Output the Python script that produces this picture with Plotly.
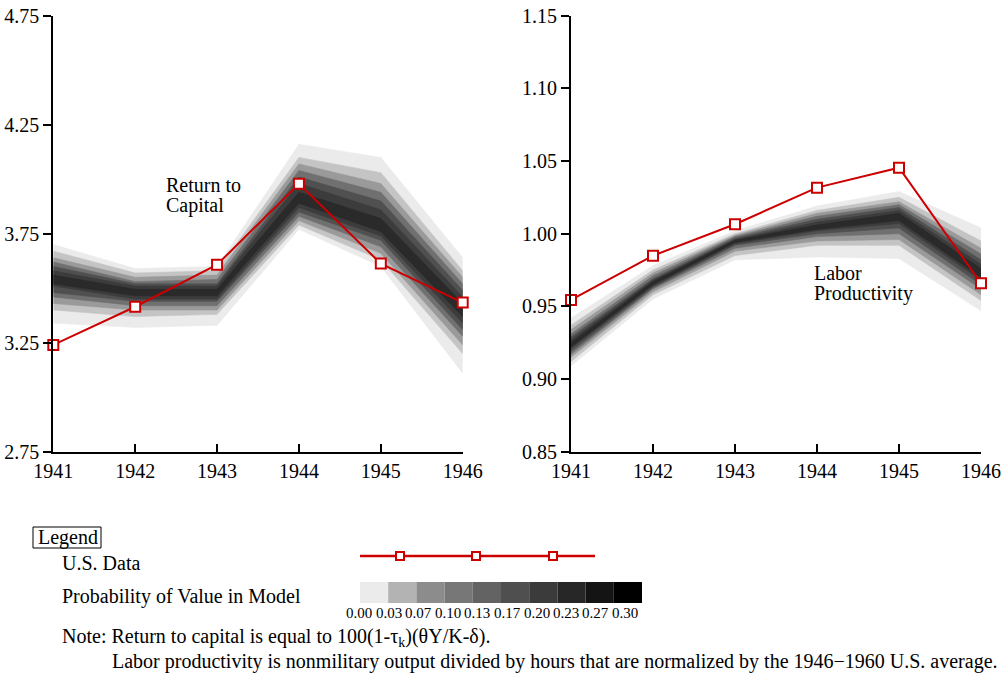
import plotly.graph_objects as go

W, H = 1005, 675
FONT = "Liberation Serif"

years = [1941, 1942, 1943, 1944, 1945, 1946]

# U.S. data
us_return = [3.24, 3.415, 3.608, 3.979, 3.613, 3.434]
us_labor = [0.9544, 0.9849, 1.0065, 1.0317, 1.0454, 0.9659]

# Model probability bands, outermost (lightest) to innermost (darkest)
band_shades = ["#ebebeb", "#c4c4c4", "#9a9a9a", "#707070", "#505050", "#3c3c3c", "#2a2a2a"]

ret_hi = [
    [3.70, 3.59, 3.60, 4.16, 4.10, 3.64],
    [3.67, 3.57, 3.58, 4.10, 4.03, 3.58],
    [3.64, 3.55, 3.56, 4.07, 3.98, 3.55],
    [3.62, 3.53, 3.54, 4.04, 3.94, 3.52],
    [3.60, 3.52, 3.52, 4.01, 3.90, 3.49],
    [3.58, 3.51, 3.51, 3.98, 3.86, 3.46],
    [3.56, 3.495, 3.495, 3.94, 3.82, 3.43],
]
ret_lo = [
    [3.34, 3.32, 3.33, 3.77, 3.60, 3.11],
    [3.40, 3.37, 3.38, 3.79, 3.63, 3.20],
    [3.43, 3.40, 3.40, 3.81, 3.66, 3.24],
    [3.46, 3.42, 3.42, 3.83, 3.69, 3.28],
    [3.48, 3.44, 3.44, 3.85, 3.72, 3.31],
    [3.51, 3.45, 3.45, 3.87, 3.74, 3.34],
    [3.52, 3.465, 3.465, 3.89, 3.76, 3.37],
]

lab_hi = [
    [0.942, 0.978, 1.002, 1.019, 1.029, 1.004],
    [0.937, 0.975, 1.000, 1.016, 1.025, 0.995],
    [0.934, 0.973, 0.999, 1.014, 1.022, 0.990],
    [0.931, 0.971, 0.998, 1.012, 1.020, 0.986],
    [0.929, 0.969, 0.997, 1.010, 1.018, 0.982],
    [0.927, 0.968, 0.996, 1.008, 1.016, 0.979],
    [0.925, 0.967, 0.9955, 1.006, 1.014, 0.976],
]
lab_lo = [
    [0.909, 0.955, 0.982, 0.984, 0.983, 0.947],
    [0.912, 0.958, 0.985, 0.992, 0.992, 0.954],
    [0.915, 0.960, 0.988, 0.995, 0.996, 0.958],
    [0.917, 0.962, 0.990, 0.998, 1.000, 0.962],
    [0.919, 0.963, 0.992, 1.000, 1.004, 0.965],
    [0.921, 0.964, 0.993, 1.002, 1.007, 0.968],
    [0.922, 0.965, 0.994, 1.003, 1.009, 0.970],
]

ret_ticks = [2.75, 3.25, 3.75, 4.25, 4.75]
lab_ticks = [0.85, 0.90, 0.95, 1.00, 1.05, 1.10, 1.15]

prob_labels = ["0.00", "0.03", "0.07", "0.10", "0.13", "0.17", "0.20", "0.23", "0.27", "0.30"]
prob_shades = ["#ebebeb", "#b3b3b3", "#8c8c8c", "#777777", "#636363",
               "#4f4f4f", "#3b3b3b", "#272727", "#141414", "#000000"]

RED = "#cc0000"


def px(x):
    return x / W


def py(y):
    return 1 - y / H


fig = go.Figure()


def add_panel(hi, lo, data, xa, ya):
    for shade, h, l in zip(band_shades, hi, lo):
        fig.add_trace(go.Scatter(
            x=years + years[::-1], y=h + l[::-1], fill="toself",
            fillcolor=shade, line=dict(width=0.6, color=shade), mode="lines",
            hoverinfo="skip", showlegend=False, xaxis=xa, yaxis=ya))
    fig.add_trace(go.Scatter(
        x=years, y=data, mode="lines+markers", cliponaxis=False,
        line=dict(color=RED, width=2),
        marker=dict(symbol="square", size=10, color="white",
                    line=dict(color=RED, width=2)),
        showlegend=False, xaxis=xa, yaxis=ya))


add_panel(ret_hi, ret_lo, us_return, "x", "y")
add_panel(lab_hi, lab_lo, us_labor, "x2", "y2")

ydom = [py(451.7), py(15.7)]
xaxis_common = dict(
    range=[1941, 1946], tickvals=years, ticktext=[str(y) for y in years],
    showline=True, linecolor="black", linewidth=2, ticks="inside",
    ticklen=8, tickwidth=1.5, tickcolor="black", showgrid=False, zeroline=False,
    tickfont=dict(family=FONT, size=20, color="black"), fixedrange=True,
    automargin=False)
yaxis_common = dict(
    showline=True, linecolor="black", linewidth=2, ticks="outside",
    ticklen=8, tickwidth=1.5, tickcolor="black", showgrid=False, zeroline=False,
    tickformat=".2f", tickfont=dict(family=FONT, size=20, color="black"),
    domain=ydom, fixedrange=True, automargin=False)

fig.update_layout(
    width=W, height=H, margin=dict(l=0, r=0, t=0, b=0, autoexpand=False),
    paper_bgcolor="white", plot_bgcolor="white",
    font=dict(family=FONT, color="black"),
    xaxis=dict(xaxis_common, domain=[px(53.3), px(462.7)], anchor="y"),
    yaxis=dict(yaxis_common, range=[2.75, 4.75], tickvals=ret_ticks, anchor="x"),
    xaxis2=dict(xaxis_common, domain=[px(571), px(981)], anchor="y2"),
    yaxis2=dict(yaxis_common, range=[0.85, 1.15], tickvals=lab_ticks, anchor="x2"),
)

ann = []
shapes = []


def text(x, y, s, size=20, xanchor="left"):
    ann.append(dict(x=px(x), y=py(y), xref="paper", yref="paper", text=s,
                    showarrow=False, xanchor=xanchor, yanchor="middle",
                    align="left", font=dict(family=FONT, size=size, color="black")))


# panel labels
text(164, 185, "Return to")
text(164, 205, "Capital")
text(812, 273, "Labor")
text(812, 294, "Productivity")

# legend block
text(36, 537, "Legend")
shapes.append(dict(type="rect", xref="paper", yref="paper",
                   x0=px(33), x1=px(101), y0=py(527), y1=py(548),
                   line=dict(color="black", width=1)))
text(60, 563, "U.S. Data")
text(60, 596, "Probability of Value in Model")

shapes.append(dict(type="line", xref="paper", yref="paper",
                   x0=px(360), x1=px(595), y0=py(556), y1=py(556),
                   line=dict(color=RED, width=2.5)))
for mx in [400, 476, 553]:
    shapes.append(dict(type="rect", xref="paper", yref="paper",
                       x0=px(mx - 4), x1=px(mx + 4), y0=py(552), y1=py(560),
                       fillcolor="white", line=dict(color=RED, width=2)))

cell_w = (642 - 360) / len(prob_shades)
for i, shade in enumerate(prob_shades):
    shapes.append(dict(type="rect", xref="paper", yref="paper",
                       x0=px(360 + i * cell_w), x1=px(360 + (i + 1) * cell_w),
                       y0=py(603), y1=py(582), fillcolor=shade, line=dict(width=0)))
for i, lab in enumerate(prob_labels):
    text(359 + i * 29.6, 613, lab, size=15, xanchor="center")

text(60, 637, "Note: Return to capital is equal to 100(1-τ<sub>k</sub>)(θY/K-δ).")
text(110, 661, "Labor productivity is nonmilitary output divided by hours that are "
               "normalized by the 1946−1960 U.S. average.")

fig.update_layout(annotations=ann, shapes=shapes)
fig.write_html("out.html")
